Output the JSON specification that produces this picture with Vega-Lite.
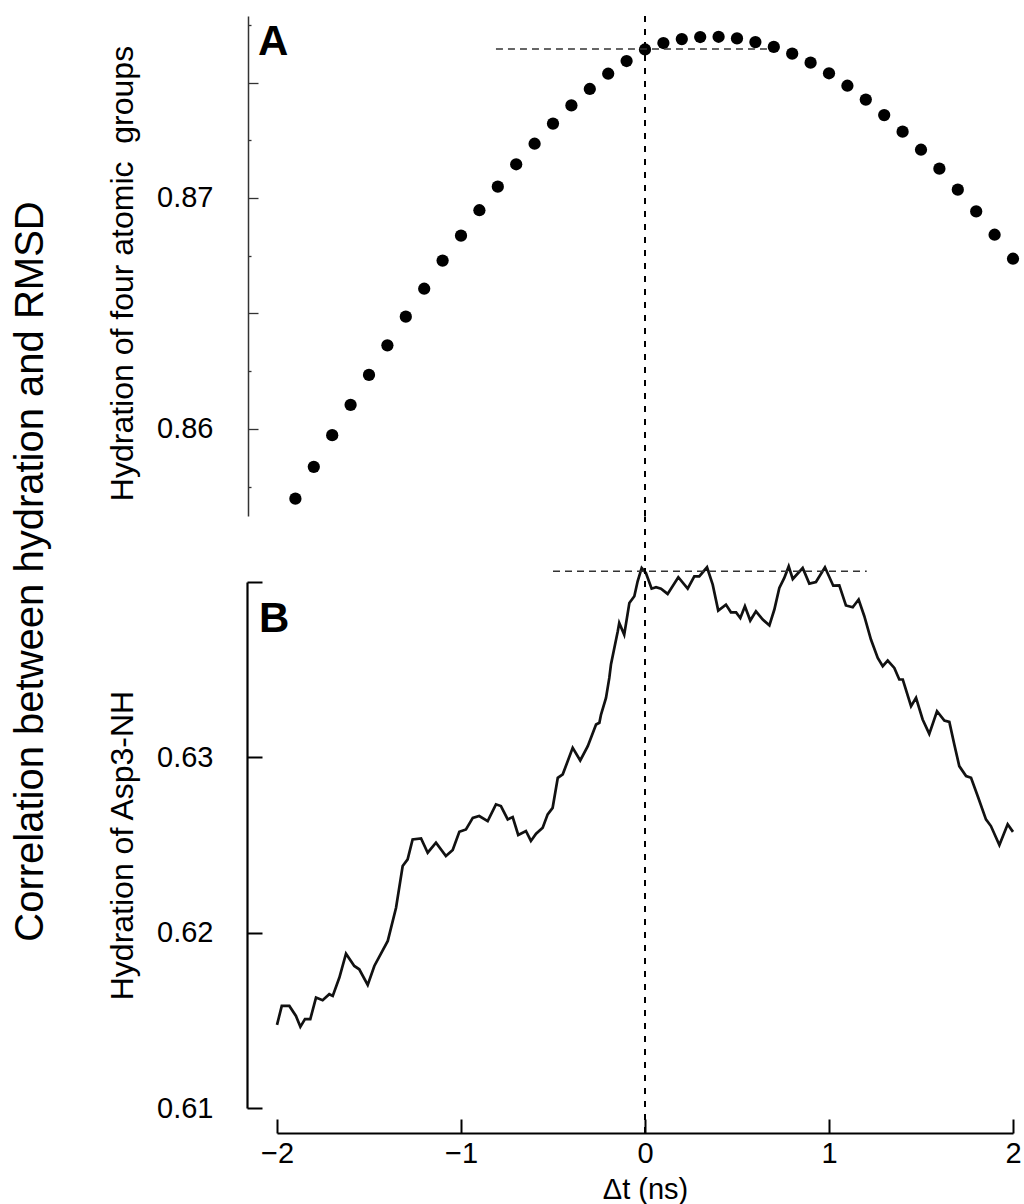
{
  "$schema": "https://vega.github.io/schema/vega-lite/v6.json",
  "background": "white",
  "padding": {"left": 10, "top": 15, "right": 4, "bottom": 4},
  "config": {"view": {"stroke": null}, "font": "Liberation Sans"},
  "title": {"text": "Correlation between hydration and RMSD", "orient": "left", "anchor": "middle", "fontSize": 40, "fontWeight": "normal", "font": "Liberation Sans", "color": "black", "offset": 55, "dx": 38},
  "bounds": "flush",
  "spacing": 66,
  "datasets": {
    "hydA": [
      {"t": -1.9, "h": 0.85698}, {"t": -1.8, "h": 0.85836}, {"t": -1.7, "h": 0.85973}, {"t": -1.6, "h": 0.86104},
      {"t": -1.5, "h": 0.86234}, {"t": -1.4, "h": 0.86362}, {"t": -1.3, "h": 0.86486}, {"t": -1.2, "h": 0.86607},
      {"t": -1.1, "h": 0.86729}, {"t": -1.0, "h": 0.86837}, {"t": -0.9, "h": 0.86947}, {"t": -0.8, "h": 0.87049},
      {"t": -0.7, "h": 0.87146}, {"t": -0.6, "h": 0.87235}, {"t": -0.5, "h": 0.87322}, {"t": -0.4, "h": 0.87401},
      {"t": -0.3, "h": 0.87472}, {"t": -0.2, "h": 0.87538}, {"t": -0.1, "h": 0.87593}, {"t": 0.0, "h": 0.87643},
      {"t": 0.1, "h": 0.87671}, {"t": 0.2, "h": 0.87688}, {"t": 0.3, "h": 0.87697}, {"t": 0.4, "h": 0.87698},
      {"t": 0.5, "h": 0.87691}, {"t": 0.6, "h": 0.87675}, {"t": 0.7, "h": 0.87654}, {"t": 0.8, "h": 0.87625},
      {"t": 0.9, "h": 0.87586}, {"t": 1.0, "h": 0.87540}, {"t": 1.1, "h": 0.87486}, {"t": 1.2, "h": 0.87426},
      {"t": 1.3, "h": 0.87359}, {"t": 1.4, "h": 0.87287}, {"t": 1.5, "h": 0.87209}, {"t": 1.6, "h": 0.87127},
      {"t": 1.7, "h": 0.87036}, {"t": 1.8, "h": 0.86942}, {"t": 1.9, "h": 0.86841}, {"t": 2.0, "h": 0.86737}
    ],
    "refA": [{"t": -0.81, "t2": 0.667, "h": 0.87645}],
    "vA": [{"t": 0, "h": 0.85623, "h2": 0.87788}],
    "labA": [{"t": -2.103, "h": 0.87675, "label": "A"}],
    "hydB": [
      {"t": -2.0, "h": 0.61474}, {"t": -1.974, "h": 0.61582}, {"t": -1.933, "h": 0.61582}, {"t": -1.897, "h": 0.61525},
      {"t": -1.873, "h": 0.61463}, {"t": -1.848, "h": 0.61507}, {"t": -1.819, "h": 0.61507}, {"t": -1.788, "h": 0.6163},
      {"t": -1.752, "h": 0.61615}, {"t": -1.716, "h": 0.61649}, {"t": -1.697, "h": 0.61639}, {"t": -1.661, "h": 0.61744},
      {"t": -1.625, "h": 0.6188}, {"t": -1.58, "h": 0.6181}, {"t": -1.553, "h": 0.61791}, {"t": -1.507, "h": 0.61702},
      {"t": -1.471, "h": 0.6181}, {"t": -1.398, "h": 0.61953}, {"t": -1.353, "h": 0.62142}, {"t": -1.317, "h": 0.6238},
      {"t": -1.29, "h": 0.62418}, {"t": -1.263, "h": 0.62532}, {"t": -1.217, "h": 0.62538}, {"t": -1.181, "h": 0.62456},
      {"t": -1.136, "h": 0.62513}, {"t": -1.082, "h": 0.62437}, {"t": -1.045, "h": 0.62471}, {"t": -1.009, "h": 0.62575},
      {"t": -0.973, "h": 0.62589}, {"t": -0.936, "h": 0.62655}, {"t": -0.901, "h": 0.62665}, {"t": -0.855, "h": 0.62636},
      {"t": -0.81, "h": 0.62732}, {"t": -0.783, "h": 0.62722}, {"t": -0.746, "h": 0.62646}, {"t": -0.719, "h": 0.62659},
      {"t": -0.689, "h": 0.62557}, {"t": -0.647, "h": 0.6258}, {"t": -0.62, "h": 0.62523}, {"t": -0.592, "h": 0.62564},
      {"t": -0.556, "h": 0.62598}, {"t": -0.529, "h": 0.62675}, {"t": -0.502, "h": 0.62712}, {"t": -0.474, "h": 0.62883},
      {"t": -0.447, "h": 0.62903}, {"t": -0.393, "h": 0.63054}, {"t": -0.352, "h": 0.62982}, {"t": -0.311, "h": 0.63064},
      {"t": -0.266, "h": 0.63187}, {"t": -0.248, "h": 0.63197}, {"t": -0.239, "h": 0.63244}, {"t": -0.212, "h": 0.63339},
      {"t": -0.194, "h": 0.63453}, {"t": -0.185, "h": 0.63529}, {"t": -0.148, "h": 0.63719}, {"t": -0.14, "h": 0.63766},
      {"t": -0.113, "h": 0.637}, {"t": -0.085, "h": 0.6388}, {"t": -0.058, "h": 0.63919}, {"t": -0.04, "h": 0.64004},
      {"t": -0.018, "h": 0.6408}, {"t": 0.005, "h": 0.64051}, {"t": 0.036, "h": 0.63962}, {"t": 0.06, "h": 0.6397},
      {"t": 0.087, "h": 0.63962}, {"t": 0.123, "h": 0.63932}, {"t": 0.181, "h": 0.64027}, {"t": 0.232, "h": 0.63962},
      {"t": 0.268, "h": 0.64032}, {"t": 0.295, "h": 0.64032}, {"t": 0.337, "h": 0.64084}, {"t": 0.368, "h": 0.63985},
      {"t": 0.398, "h": 0.63837}, {"t": 0.44, "h": 0.63871}, {"t": 0.467, "h": 0.63827}, {"t": 0.495, "h": 0.63827},
      {"t": 0.518, "h": 0.63795}, {"t": 0.543, "h": 0.63862}, {"t": 0.572, "h": 0.6378}, {"t": 0.603, "h": 0.63833},
      {"t": 0.64, "h": 0.63786}, {"t": 0.676, "h": 0.63753}, {"t": 0.703, "h": 0.63843}, {"t": 0.73, "h": 0.63966},
      {"t": 0.757, "h": 0.64023}, {"t": 0.781, "h": 0.64089}, {"t": 0.803, "h": 0.64017}, {"t": 0.857, "h": 0.6408},
      {"t": 0.893, "h": 0.63991}, {"t": 0.929, "h": 0.64}, {"t": 0.978, "h": 0.64084}, {"t": 1.023, "h": 0.63979},
      {"t": 1.056, "h": 0.63981}, {"t": 1.092, "h": 0.63866}, {"t": 1.129, "h": 0.63856}, {"t": 1.161, "h": 0.639},
      {"t": 1.192, "h": 0.63805}, {"t": 1.228, "h": 0.63672}, {"t": 1.265, "h": 0.63567}, {"t": 1.292, "h": 0.6352},
      {"t": 1.319, "h": 0.63552}, {"t": 1.355, "h": 0.6351}, {"t": 1.382, "h": 0.63444}, {"t": 1.401, "h": 0.63444},
      {"t": 1.446, "h": 0.63292}, {"t": 1.473, "h": 0.63339}, {"t": 1.509, "h": 0.63216}, {"t": 1.545, "h": 0.63134},
      {"t": 1.587, "h": 0.63263}, {"t": 1.627, "h": 0.6321}, {"t": 1.654, "h": 0.63202}, {"t": 1.681, "h": 0.63073},
      {"t": 1.708, "h": 0.6295}, {"t": 1.745, "h": 0.62893}, {"t": 1.772, "h": 0.62883}, {"t": 1.808, "h": 0.62779},
      {"t": 1.853, "h": 0.62646}, {"t": 1.88, "h": 0.62608}, {"t": 1.926, "h": 0.625}, {"t": 1.971, "h": 0.62618},
      {"t": 2.0, "h": 0.62575}
    ],
    "refB": [{"t": -0.5, "t2": 1.205, "h": 0.64061}],
    "vB": [{"t": 0, "h": 0.60858, "h2": 0.64374}],
    "labB": [{"t": -2.098, "h": 0.63787, "label": "B"}]
  },
  "vconcat": [
    {
      "width": 736,
      "height": 500,
      "encoding": {
        "x": {"field": "t", "type": "quantitative", "scale": {"domain": [-2, 2], "nice": false, "zero": false}, "axis": null},
        "y": {"field": "h", "type": "quantitative", "scale": {"domain": [0.85623, 0.87788], "nice": false, "zero": false},
          "axis": {
            "values": [0.8575, 0.86, 0.8625, 0.865, 0.8675, 0.87, 0.8725, 0.875, 0.8775],
            "labelExpr": "abs(datum.value-0.86)<0.0001 ? '0.86' : (abs(datum.value-0.87)<0.0001 ? '0.87' : '')",
            "grid": false,
            "offset": 29,
            "domainColor": "#333333",
            "domainWidth": 1.5,
            "tickColor": "#333333",
            "tickWidth": 1.3,
            "tickSize": {"condition": {"test": "abs(datum.value*200 - round(datum.value*200)) < 0.01", "value": -10}, "value": -3},
            "labelPadding": 45,
            "labelFontSize": 29,
            "labelColor": "black",
            "labelFont": "Liberation Sans",
            "title": "Hydration of four atomic\u00a0 groups",
            "titleFont": "Liberation Sans",
            "titleFontSize": 32,
            "titleFontWeight": "normal",
            "titleColor": "black",
            "titleAngle": 270,
            "titleAlign": "center",
            "titleBaseline": "alphabetic",
            "titleX": -116,
            "titleY": 257
          }
        }
      },
      "layer": [
        {"data": {"name": "hydA"}, "mark": {"type": "point", "filled": true, "size": 150, "color": "black", "opacity": 1}},
        {"data": {"name": "refA"}, "mark": {"type": "rule", "strokeDash": [7, 5], "strokeWidth": 1.5, "color": "#333333"},
          "encoding": {"x2": {"field": "t2"}}},
        {"data": {"name": "vA"}, "mark": {"type": "rule", "strokeDash": [6, 7], "strokeWidth": 2, "color": "black"},
          "encoding": {"y2": {"field": "h2"}}},
        {"data": {"name": "labA"}, "mark": {"type": "text", "fontSize": 42, "fontWeight": "bold", "align": "left", "baseline": "middle", "color": "black", "font": "Liberation Sans"},
          "encoding": {"text": {"field": "label"}}}
      ]
    },
    {
      "width": 736,
      "height": 526,
      "encoding": {
        "x": {"field": "t", "type": "quantitative", "scale": {"domain": [-2, 2], "nice": false, "zero": false},
          "axis": {
            "values": [-2, -1, 0, 1, 2],
            "format": "d",
            "grid": false,
            "offset": 25,
            "domainColor": "black",
            "domainWidth": 2.2,
            "tickColor": "black",
            "tickWidth": 2,
            "tickSize": -14,
            "labelPadding": 20,
            "labelFontSize": 29,
            "labelColor": "black",
            "labelFont": "Liberation Sans",
            "labelFlush": false,
            "title": "Δt (ns)",
            "titleFont": "Liberation Sans",
            "titleFontSize": 29,
            "titleFontWeight": "normal",
            "titleColor": "black",
            "titleBaseline": "alphabetic",
            "titleY": 65
          }
        },
        "y": {"field": "h", "type": "quantitative", "scale": {"domain": [0.61, 0.64], "nice": false, "zero": false},
          "axis": {
            "values": [0.61, 0.62, 0.63, 0.64],
            "labelExpr": "datum.value > 0.635 ? '' : format(datum.value, '.2f')",
            "grid": false,
            "offset": 30,
            "domainColor": "black",
            "domainWidth": 2.2,
            "tickColor": "black",
            "tickWidth": 2,
            "tickSize": -15,
            "labelPadding": 49,
            "labelFontSize": 29,
            "labelColor": "black",
            "labelFont": "Liberation Sans",
            "title": "Hydration of Asp3-NH",
            "titleFont": "Liberation Sans",
            "titleFontSize": 32,
            "titleFontWeight": "normal",
            "titleColor": "black",
            "titleAngle": 270,
            "titleAlign": "center",
            "titleBaseline": "alphabetic",
            "titleX": -115,
            "titleY": 263
          }
        }
      },
      "layer": [
        {"data": {"name": "hydB"}, "mark": {"type": "line", "strokeWidth": 2.7, "color": "#111111"}},
        {"data": {"name": "refB"}, "mark": {"type": "rule", "strokeDash": [7, 5], "strokeWidth": 1.5, "color": "#333333"},
          "encoding": {"x2": {"field": "t2"}}},
        {"data": {"name": "vB"}, "mark": {"type": "rule", "strokeDash": [6, 7], "strokeWidth": 2, "color": "black"},
          "encoding": {"y2": {"field": "h2"}}},
        {"data": {"name": "labB"}, "mark": {"type": "text", "fontSize": 42, "fontWeight": "bold", "align": "left", "baseline": "middle", "color": "black", "font": "Liberation Sans"},
          "encoding": {"text": {"field": "label"}}}
      ]
    }
  ]
}
